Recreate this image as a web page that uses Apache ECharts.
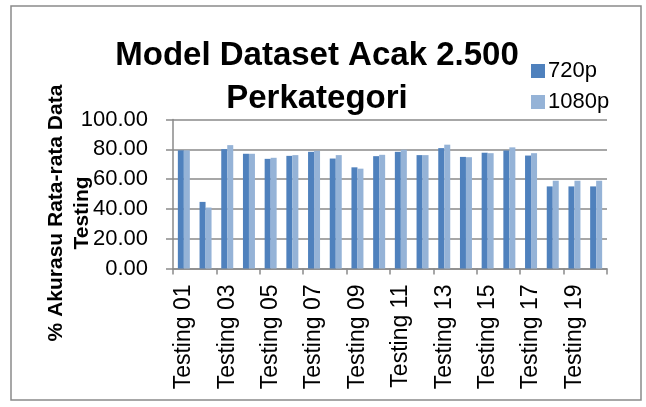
<!DOCTYPE html>
<html><head><meta charset="utf-8">
<script src="https://cdn.jsdelivr.net/npm/echarts@6/dist/echarts.min.js"></script>
<style>html,body{margin:0;padding:0;background:#fff}#c{width:646px;height:407px}</style>
</head><body><div id="c"></div>
<script>
var categories = ['Testing 01','Testing 02','Testing 03','Testing 04','Testing 05','Testing 06','Testing 07','Testing 08','Testing 09','Testing 10','Testing 11','Testing 12','Testing 13','Testing 14','Testing 15','Testing 16','Testing 17','Testing 18','Testing 19','Testing 20'];
var s720 = [79.3,44.7,80.1,77.0,73.6,75.6,78.3,73.8,67.9,75.4,78.3,76.1,80.8,74.9,77.7,79.2,75.8,55.1,55.1,55.1];
var s1080 = [79.3,40.9,82.8,77.0,74.3,76.1,79.0,76.1,67.0,76.3,79.7,76.1,83.1,74.7,77.4,81.3,77.4,58.9,58.9,58.9];
var yTicks = [0,20,40,60,80,100];
var FONT = '"Liberation Sans", Arial, sans-serif';
var chart = echarts.init(document.getElementById('c'), null, {renderer:'canvas'});
chart.setOption({
  animation:false,
  backgroundColor:'#fff',
  title:{text:'Model Dataset Acak 2.500\nPerkategori', left:312, top:29, textAlign:'center',
    textStyle:{fontFamily:FONT, fontWeight:'bold', fontSize:33, lineHeight:43, color:'#000'}},
  legend:{orient:'vertical', left:526, top:55, itemWidth:14, itemHeight:14, itemGap:9,
    icon:'rect', textStyle:{fontFamily:FONT, fontSize:22, color:'#000', padding:[0,0,0,-2]},
    data:['720p','1080p']},
  grid:{left:173, right:39, top:119.5, bottom:138.5, containLabel:false},
  xAxis:{type:'category', data:categories,
    axisLine:{lineStyle:{color:'#8a8a8a', width:1.5}},
    axisTick:{show:true, length:6, lineStyle:{color:'#8a8a8a', width:1.5}},
    axisLabel:{interval:1, rotate:90, margin:16, fontFamily:FONT, fontSize:23, color:'#000'}},
  yAxis:{type:'value', min:0, max:100, interval:20,
    axisLine:{show:true, lineStyle:{color:'#8a8a8a', width:1.5}},
    axisTick:{show:true, length:7, lineStyle:{color:'#8a8a8a', width:1.5}},
    splitLine:{lineStyle:{color:'#8a8a8a', width:1.5}},
    axisLabel:{margin:25, fontFamily:FONT, fontSize:22, color:'#000',
      formatter:function(v){return yTicks.indexOf(v)>=0 ? v.toFixed(2) : '';}}},
  series:[
    {name:'720p', type:'bar', data:s720, barWidth:6, barGap:'0%', itemStyle:{color:'#4f81bd'}},
    {name:'1080p', type:'bar', data:s1080, barWidth:6, barGap:'0%', itemStyle:{color:'#95b3d7'}}
  ],
  graphic:[
    {type:'rect', shape:{x:11, y:6, width:630, height:394}, style:{fill:null, stroke:'#8a8a8a', lineWidth:1.5}, silent:true, z:-1},
    {type:'text', x:69, y:213, rotation:Math.PI/2,
      style:{text:'% Akurasu Rata-rata Data\nTesting', fontFamily:FONT, fontWeight:'bold', fontSize:21, lineHeight:26,
        fill:'#000', align:'center', verticalAlign:'middle'}}
  ]
});
</script></body></html>
